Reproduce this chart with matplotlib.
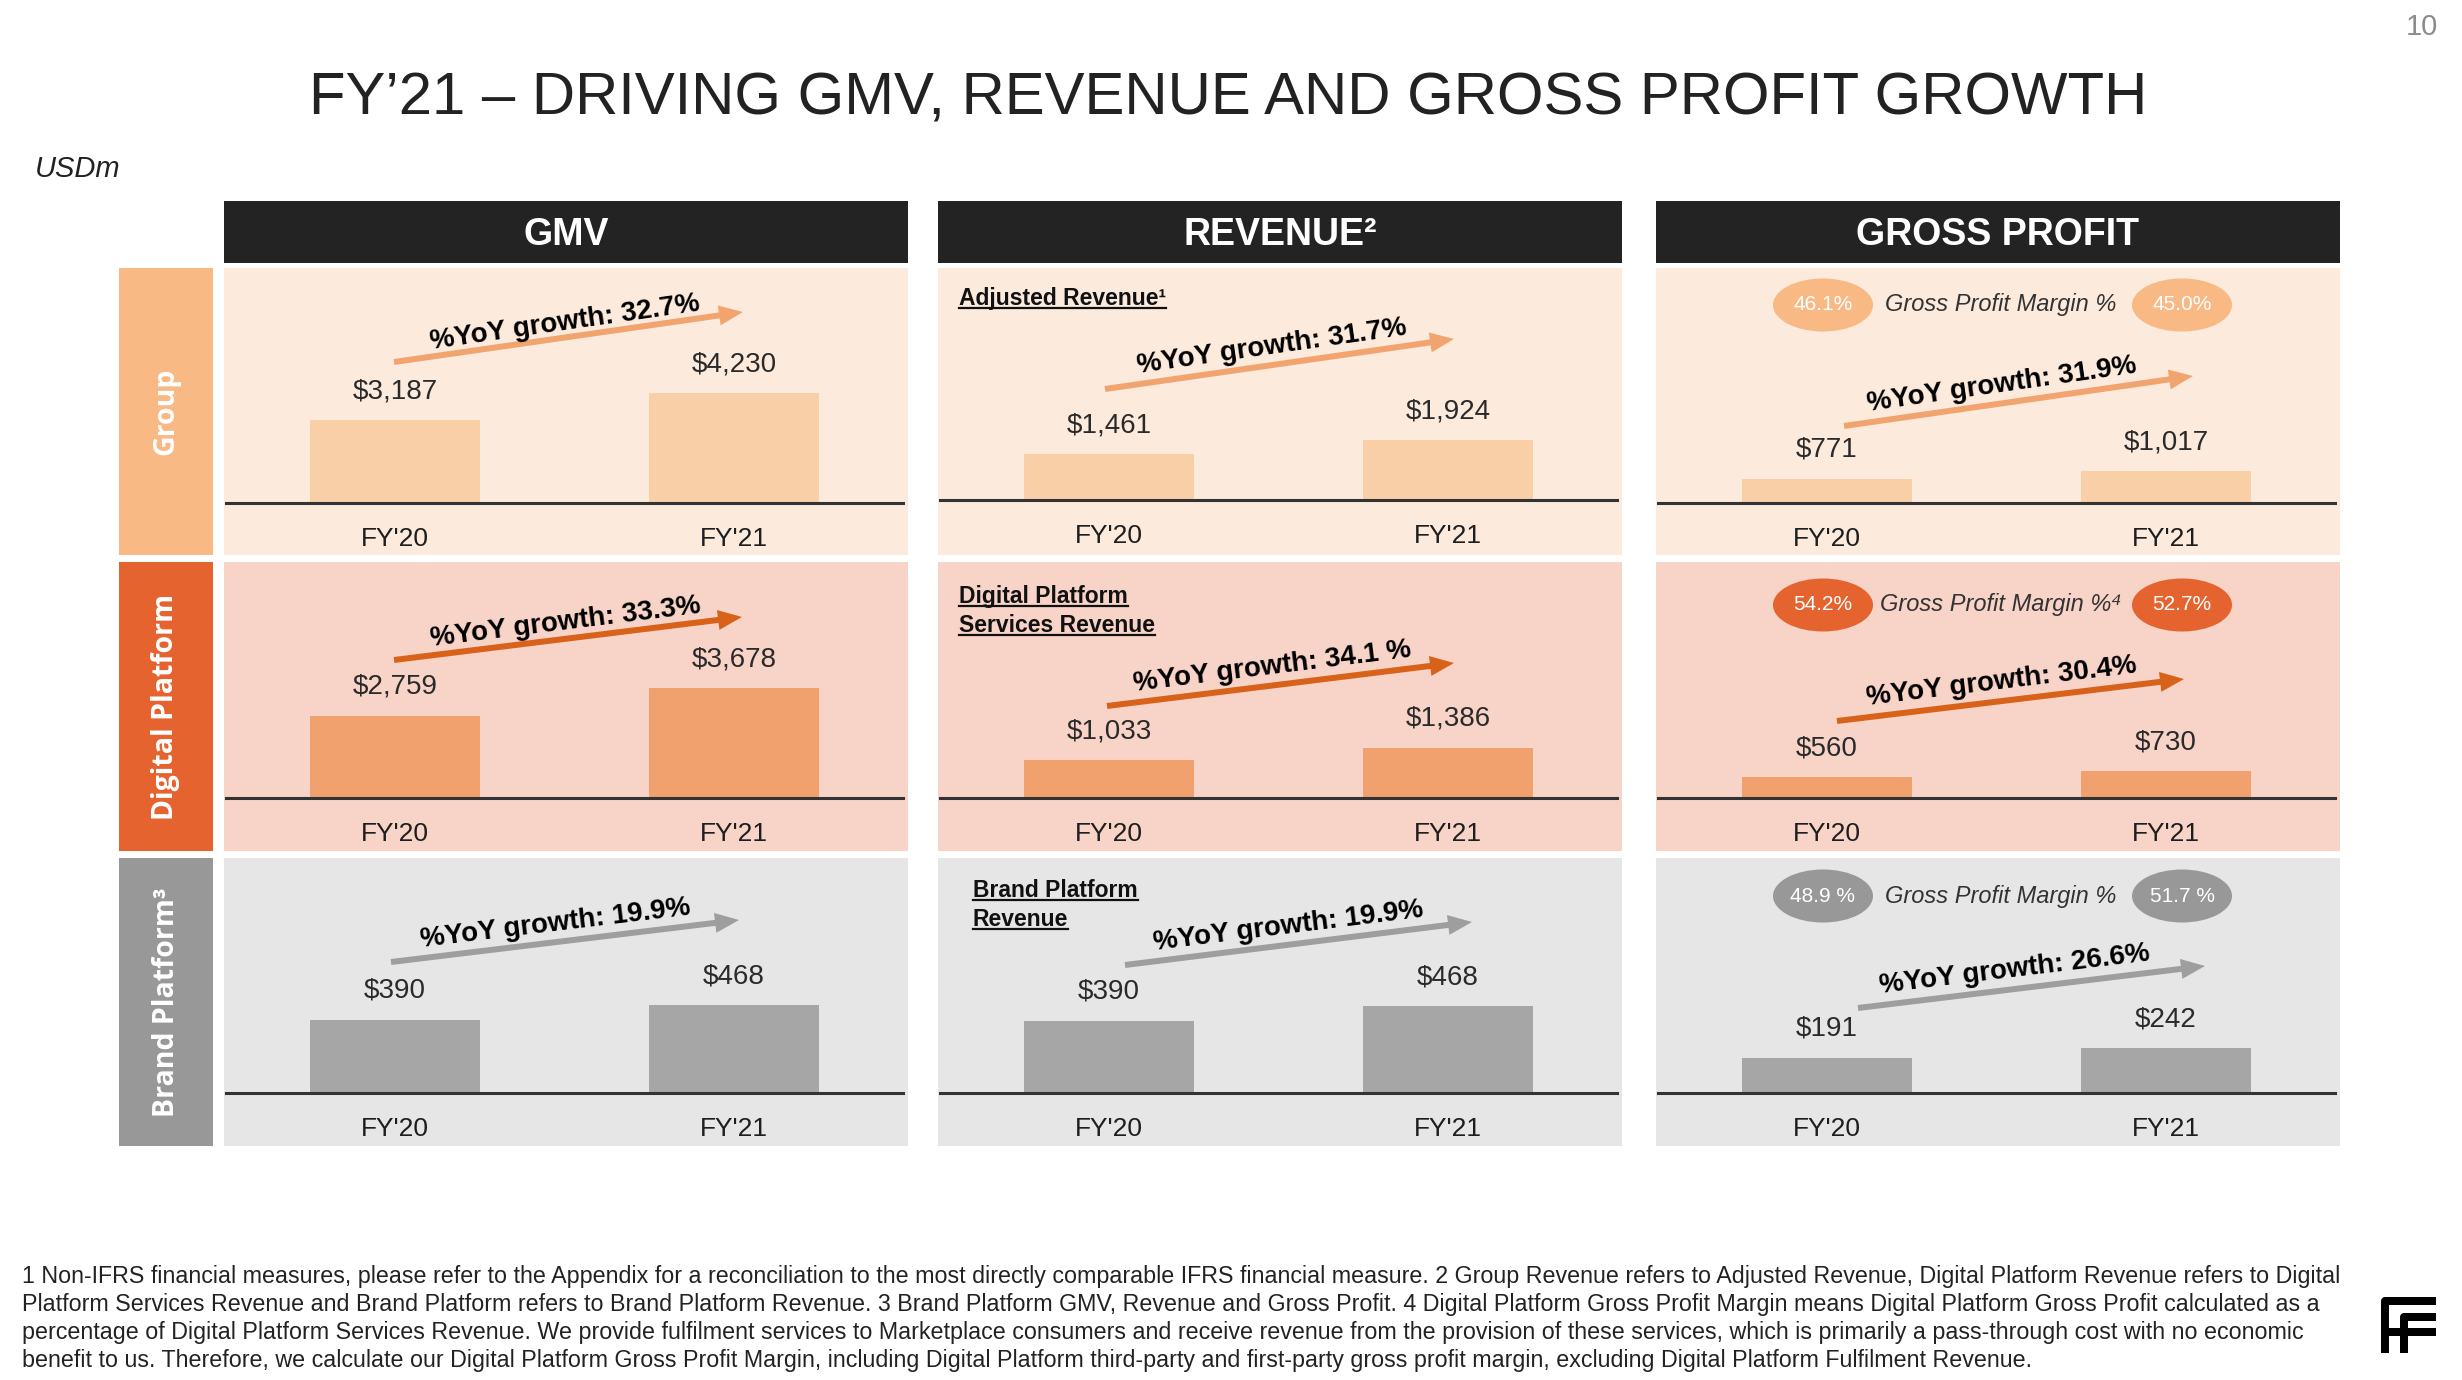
import matplotlib
matplotlib.use("Agg")
import math
import matplotlib.pyplot as plt
from matplotlib.patches import Rectangle, Ellipse, FancyArrow
from matplotlib.lines import Line2D

# ---------------- data ----------------
periods = ["FY'20", "FY'21"]
segments = ["Group", "Digital Platform", "Brand Platform³"]
metrics = ["GMV", "REVENUE²", "GROSS PROFIT"]

gmv_values = [[3187, 4230], [2759, 3678], [390, 468]]
revenue_values = [[1461, 1924], [1033, 1386], [390, 468]]
gross_profit_values = [[771, 1017], [560, 730], [191, 242]]

gmv_growth = ["32.7%", "33.3%", "19.9%"]
revenue_growth = ["31.7%", "34.1 %", "19.9%"]
gross_profit_growth = ["31.9%", "30.4%", "26.6%"]

margin_fy20 = ["46.1%", "54.2%", "48.9 %"]
margin_fy21 = ["45.0%", "52.7%", "51.7 %"]
margin_titles = ["Gross Profit Margin %", "Gross Profit Margin %⁴", "Gross Profit Margin %"]
revenue_subtitles = [["Adjusted Revenue¹"], ["Digital Platform", "Services Revenue"],
                     ["Brand Platform", "Revenue"]]

title = "FY’21 – DRIVING GMV, REVENUE AND GROSS PROFIT GROWTH"
unit_label = "USDm"
page_number = "10"
footnote_lines = [
    "1 Non-IFRS financial measures, please refer to the Appendix for a reconciliation to the most directly comparable IFRS financial measure. 2 Group Revenue refers to Adjusted Revenue, Digital Platform Revenue refers to Digital",
    "Platform Services Revenue and Brand Platform refers to Brand Platform Revenue. 3 Brand Platform GMV, Revenue and Gross Profit. 4 Digital Platform Gross Profit Margin means Digital Platform Gross Profit calculated as a",
    "percentage of Digital Platform Services Revenue. We provide fulfilment services to Marketplace consumers and receive revenue from the provision of these services, which is primarily a pass-through cost with no economic",
    "benefit to us. Therefore, we calculate our Digital Platform Gross Profit Margin, including Digital Platform third-party and first-party gross profit margin, excluding Digital Platform Fulfilment Revenue.",
]

values_by_col = [gmv_values, revenue_values, gross_profit_values]
growth_by_col = [gmv_growth, revenue_growth, gross_profit_growth]

# ---------------- layout (pixels) ----------------
W, H = 2462, 1380
SANS = ["Liberation Sans", "DejaVu Sans"]
LABEL_FONT = ["Open Sans", "DejaVu Sans"]

col_left = [224, 938, 1656]
col_w = 684
row_top = [268, 562, 858]
row_bot = [555, 851, 1146]
base_y = [[503, 798, 1093], [500, 798, 1093], [503, 798, 1093]]
units_per_px = [[38.5, 33.5, 5.34], [32.1, 27.45, 5.41], [31.8, 27.1, 5.42]]

arrow_pts = [
    [((394, 362), (743, 312)), ((394, 660), (742, 617)), ((391, 962), (739, 920))],
    [((1105, 389), (1454, 339)), ((1107, 706), (1454, 663)), ((1125, 965), (1472, 922))],
    [((1844, 426), (2193, 376)), ((1837, 721), (2184, 679)), ((1858, 1008), (2205, 966))],
]
growth_text_pts = [
    [(565, 323), (566, 622), (555, 924)],
    [(1272, 347), (1272, 667), (1288, 926)],
    [(2002, 385), (2002, 682), (2015, 970)],
]

label_box_col = ["#F8B984", "#E5632F", "#989898"]
panel_bg = ["#FCEADC", "#F7D4C7", "#E6E6E6"]
bar_col = ["#F9CFA7", "#F0A16D", "#A6A6A6"]
arrow_col = ["#F2A46E", "#D9621B", "#9E9E9E"]
bubble_col = ["#F8B984", "#E5632F", "#989898"]
header_col = "#232323"

fig = plt.figure(figsize=(W / 100, H / 100), dpi=100)
fig.patch.set_facecolor("white")
ov = fig.add_axes([0, 0, 1, 1], zorder=0)
ov.set_xlim(0, W)
ov.set_ylim(H, 0)
ov.axis("off")

# title, unit, page number
title_t = ov.text(1228, 115, title, ha="center", va="baseline", fontsize=43,
                  color="#222222", family=SANS)
ov.text(35, 177, unit_label, ha="left", va="baseline", fontsize=21, style="italic",
        color="#222222", family=SANS)
ov.text(2422, 35, page_number, ha="center", va="baseline", fontsize=21,
        color="#8C8C8C", family=SANS)

# headers
for c in range(3):
    ov.add_patch(Rectangle((col_left[c], 201), col_w, 62, color=header_col, lw=0))
    ov.text(col_left[c] + col_w / 2, 245, metrics[c], ha="center", va="baseline",
            fontsize=27, fontweight="bold", color="white", family=SANS)

# row labels
for r in range(3):
    ov.add_patch(Rectangle((119, row_top[r]), 94, row_bot[r] - row_top[r],
                           color=label_box_col[r], lw=0))
    ov.text(166, (row_top[r] + row_bot[r]) / 2, segments[r], rotation=90,
            ha="center", va="center", fontsize=20.5, fontweight="bold", color="white",
            family=LABEL_FONT)

# panel backgrounds
for c in range(3):
    for r in range(3):
        ov.add_patch(Rectangle((col_left[c], row_top[r]), col_w, row_bot[r] - row_top[r],
                               color=panel_bg[r], lw=0))

# bar axes
bar_w_px, c0_px, step_px = 170, 171, 339
for c in range(3):
    for r in range(3):
        x0 = col_left[c] + 2
        x1 = col_left[c] + 679
        yb, yt = base_y[c][r], row_top[r]
        bax = fig.add_axes([x0 / W, 1 - yb / H, (x1 - x0) / W, (yb - yt) / H], zorder=2)
        bax.patch.set_alpha(0)
        vals = values_by_col[c][r]
        bax.bar([0, 1], vals, width=bar_w_px / step_px, color=bar_col[r], lw=0)
        left_units = (c0_px - 2) / step_px
        bax.set_xlim(-left_units, (x1 - x0) / step_px - left_units)
        bax.set_ylim(0, (yb - yt) * units_per_px[c][r])
        for s in ("top", "left", "right"):
            bax.spines[s].set_visible(False)
        bax.spines["bottom"].set_linewidth(2.2)
        bax.spines["bottom"].set_color("#333333")
        bax.set_yticks([])
        bax.set_xticks([0, 1])
        bax.set_xticklabels(periods, fontsize=19, color="#1E1E1E", family=SANS)
        bax.tick_params(axis="x", length=0, pad=17)
        for i, v in enumerate(vals):
            bax.annotate(f"${v:,}", xy=(i, v), xytext=(0, 22), textcoords="offset pixels",
                         ha="center", va="baseline", fontsize=20, color="#2A2A2A",
                         family=SANS, annotation_clip=False)

# growth arrows and text
for c in range(3):
    for r in range(3):
        (ax0, ay0), (ax1, ay1) = arrow_pts[c][r]
        ov.add_patch(FancyArrow(ax0, ay0, ax1 - ax0, ay1 - ay0, width=6, head_width=20,
                                head_length=24, length_includes_head=True,
                                color=arrow_col[r], lw=0, zorder=3))
        ang = math.degrees(math.atan2(ay0 - ay1, ax1 - ax0))
        tx, ty = growth_text_pts[c][r]
        ov.text(tx, ty, "%YoY growth: " + growth_by_col[c][r], rotation=ang,
                rotation_mode="anchor", ha="center", va="center", fontsize=20,
                fontweight="bold", color="black", family=SANS, zorder=4)

# gross profit margin bubbles
bubble_y = [305, 605, 896]
for r in range(3):
    cy = bubble_y[r]
    for cx, lab in ((col_left[2] + 167, margin_fy20[r]), (col_left[2] + 526, margin_fy21[r])):
        ov.add_patch(Ellipse((cx, cy), 100, 53, color=bubble_col[r], lw=0, zorder=3))
        ov.text(cx, cy, lab, ha="center", va="center", fontsize=15, color="white",
                family=SANS, zorder=4)
    ov.text(col_left[2] + 345, cy, margin_titles[r], ha="center", va="center",
            fontsize=17, style="italic", color="#333333", family=SANS, zorder=4)

# revenue subtitles (underlined)
sub_pos = [(959, [305]), (959, [603, 632]), (973, [897, 926])]
sub_texts = []
for r in range(3):
    x, ys = sub_pos[r]
    for line, y in zip(revenue_subtitles[r], ys):
        t = ov.text(x, y, line, ha="left", va="baseline", fontsize=16.5,
                    fontweight="bold", color="#111111", family=SANS, zorder=4)
        sub_texts.append((t, x, y))

# footnote
foot_baselines = [1283, 1311, 1339, 1367]
foot_texts = []
for i, line in enumerate(footnote_lines):
    t = ov.text(22, foot_baselines[i], line, ha="left", va="baseline",
                fontsize=15, color="#222222", family=SANS)
    foot_texts.append(t)

# logo
lw_logo = 8 * 0.72
ov.add_line(Line2D([2385, 2385, 2436], [1353, 1301, 1301], color="black", lw=lw_logo,
                   solid_joinstyle="round", solid_capstyle="butt"))
ov.add_line(Line2D([2404, 2404, 2436], [1353, 1317, 1317], color="black", lw=lw_logo,
                   solid_joinstyle="round", solid_capstyle="butt"))
ov.add_line(Line2D([2385, 2436], [1332, 1332], color="black", lw=lw_logo,
                   solid_capstyle="butt"))

# fit sizes and underline
fig.canvas.draw()
rend = fig.canvas.get_renderer()
w = title_t.get_window_extent(rend).width
title_t.set_fontsize(43 * 1842 / w)
w = foot_texts[0].get_window_extent(rend).width
fs = 15 * 2318 / w
for t in foot_texts:
    t.set_fontsize(fs)
fig.canvas.draw()
for t, x, y in sub_texts:
    bw = t.get_window_extent(rend).width
    ov.add_line(Line2D([x, x + bw], [y + 3, y + 3], color="#111111", lw=1.6, zorder=4))

fig.savefig("out.png", dpi=100, facecolor="white")
